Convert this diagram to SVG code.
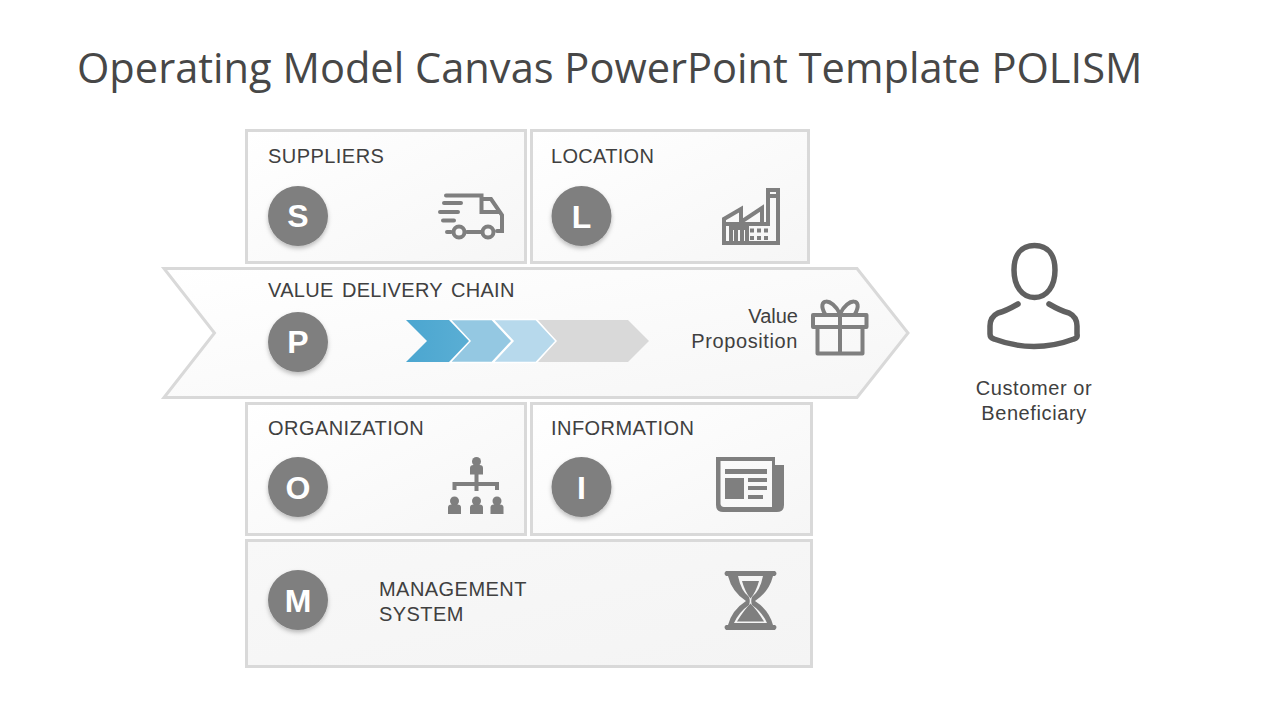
<svg xmlns="http://www.w3.org/2000/svg" width="1280" height="720" viewBox="0 0 1280 720">
<style>
text{font-family:"Liberation Sans",Arial,sans-serif;fill:#404040;font-size:20px;letter-spacing:.45px}
.low{letter-spacing:.6px}
.title{font-family:"Open Sans","Noto Sans",sans-serif;font-size:41.6px;fill:#474747;letter-spacing:0}
.box{fill:url(#boxg);stroke:#d9d9d9;stroke-width:3}
.cir{fill:#7f7f7f;filter:url(#sh)}
.let{fill:#fff;font-size:32px;font-weight:bold;text-anchor:middle;letter-spacing:0}
.ic{fill:none;stroke:#7f7f7f;stroke-width:4}
.icf{fill:#7f7f7f;stroke:none}
</style>
<defs>
<linearGradient id="boxg" x1="0" y1="0" x2="1" y2="1"><stop offset="0" stop-color="#fff"/><stop offset="1" stop-color="#f6f6f6"/></linearGradient>
<linearGradient id="mg" x1="0" y1="0" x2="1" y2="1"><stop offset="0" stop-color="#f8f8f8"/><stop offset="1" stop-color="#f4f4f4"/></linearGradient>
<linearGradient id="b1" x1="0" y1="0" x2="1" y2="0"><stop offset="0" stop-color="#4ba6d0"/><stop offset="1" stop-color="#5aaed4"/></linearGradient>
<filter id="sh" x="-20%" y="-20%" width="140%" height="150%"><feDropShadow dx="0" dy="2.5" stdDeviation="2" flood-color="#000" flood-opacity="0.25"/></filter>
<g id="person"><circle cx="0" cy="-4.500" r="4.500"/><path d="M-6.500 8.500V2Q-6.500 -1 -3 -1H3Q6.500 -1 6.500 2V8.500Z"/></g>
</defs>
<rect width="1280" height="720" fill="#fff"/>
<text class="title" x="77" y="83">Operating Model Canvas PowerPoint Template POLISM</text>

<g id="node-s">
<rect class="box" x="246.500" y="130.500" width="279" height="132"/>
<text x="268" y="162.500">SUPPLIERS</text>
<circle class="cir" cx="298" cy="216" r="30"/>
<text class="let" x="298" y="227">S</text>
<g class="ic" stroke-linecap="round">
<path d="M446 195.500H481.500V212H498M482 199H491L502 215V231H497M481 232H467M451 232H447M444 203H461M440 212H458M443 220.500H454"/>
<circle cx="459" cy="232" r="5.500"/><circle cx="488" cy="232" r="5.500"/>
</g>
</g>

<g id="node-l">
<rect class="box" x="531.500" y="130.500" width="277" height="132"/>
<text x="551" y="162.500" style="letter-spacing:.3px">LOCATION</text>
<circle class="cir" cx="581.500" cy="216" r="30"/>
<text class="let" x="581.500" y="228">L</text>
<path class="ic" d="M724 243V219L741 209V222L762 208V224H768V190H778V243ZM768 196H778M724 224H762M724 243H778M731 243V228H747V243M736 228V243M742 228V243"/>
<path class="icf" d="M750 228.500h4v4h-4zM757 228.500h4v4h-4zM764 228.500h4v4h-4zM750 236h4v4h-4zM757 236h4v4h-4zM764 236h4v4h-4z"/>
</g>

<g id="node-p">
<path class="box" d="M164 268.500H857L908 333L857 397.500H164L214.500 333Z"/>
<text x="268" y="296.500" word-spacing="2.500" style="letter-spacing:.3px">VALUE DELIVERY CHAIN</text>
<circle class="cir" cx="298" cy="342" r="30"/>
<text class="let" x="298" y="353">P</text>
<g id="chain" stroke="#fff" stroke-width="1.500">
<path fill="#d9d9d9" stroke="none" d="M538 320H628L649 341L628 362H538L556 341Z"/>
<path fill="#b7d9ec" d="M493 319.500H536L556 341L536 362.500H493L513 341Z"/>
<path fill="#94c8e2" d="M450 319.500H492L512 341L492 362.500H450L470 341Z"/>
<path fill="url(#b1)" stroke="none" d="M406 320H449L469 341L449 362H406L427 341Z"/>
</g>
<text x="798" y="323" text-anchor="end" style="letter-spacing:0">Value</text>
<text class="low" x="798" y="348" text-anchor="end">Proposition</text>
<g class="ic" stroke-width="4.500">
<path stroke-linejoin="round" d="M813 315H866.500V327H813ZM817.500 327V353.500H862.500V327M840 315V353.500"/>
<path d="M840 314C832 297 816 298 825 314M840 314C848 297 864 298 855 314"/>
</g>
</g>

<g id="node-o">
<rect class="box" x="246.500" y="403.500" width="279" height="131"/>
<text x="268" y="434.500">ORGANIZATION</text>
<circle class="cir" cx="298" cy="487" r="30"/>
<text class="let" x="298" y="499">O</text>
<g class="icf">
<use href="#person" x="476.500" y="466"/>
<use href="#person" x="454.500" y="505.500"/>
<use href="#person" x="476.500" y="505.500"/>
<use href="#person" x="497" y="505.500"/>
</g>
<path class="ic" stroke-width="2.500" d="M476.500 474V491M454.500 490V484H497V490"/>
</g>

<g id="node-i">
<rect class="box" x="531.500" y="403.500" width="280" height="131"/>
<text x="551" y="434.500">INFORMATION</text>
<circle class="cir" cx="581.500" cy="487" r="30"/>
<text class="let" x="581.500" y="499">I</text>
<path class="icf" fill-rule="evenodd" d="M716 457H775V465H784V505Q784 512 777 512H723Q716 512 716 505ZM720.500 461V504Q721 507 724 507H772V461Z"/>
<path class="icf" d="M725 469H767V474H725ZM725 478H744V499H725ZM748 478H767V482H748ZM748 486H767V490H748ZM748 495H763V499H748Z"/>
</g>

<g id="node-m">
<rect class="box" x="246.500" y="540.500" width="565" height="126" style="fill:url(#mg)"/>
<circle class="cir" cx="298" cy="600" r="30"/>
<text class="let" x="298" y="612">M</text>
<text x="379" y="595.500">MANAGEMENT</text>
<text x="379" y="620.500">SYSTEM</text>
<path class="icf" fill-rule="evenodd" d="M726 571H775Q778 573.500 775 576H773Q769 592 755 601Q769 610 773 625H775Q778 627 775 630H726Q723 627 726 625H728Q732 610 746 601Q732 592 728 576H726Q723 573.500 726 571ZM738 576Q741 591 749 597Q750.500 601 749 605Q739 612 734 623H767Q762 612 752 605Q750.500 601 752 597Q760 591 763 576Z"/>
<path class="icf" d="M742 581H759Q756 592 750.500 598.500Q745 592 742 581ZM750.500 603.500Q757 610 764 621.500H737Q744 610 750.500 603.500Z"/>
</g>

<g id="node-c">
<g fill="none" stroke="#606060" stroke-width="5.500" stroke-linecap="round">
<path d="M1034.500 245.500C1048 245.500 1055 255 1055 270C1055 286 1047 297.500 1034.500 297.500C1022 297.500 1014 286 1014 270C1014 255 1021 245.500 1034.500 245.500Z"/>
<path d="M1018 304Q1006 311 998 313Q990 317 990 326V334Q990 338 994 339Q1034 354 1074 339Q1078 338 1077 334V326Q1077 317 1069 313Q1061 311 1049 304"/>
</g>
<text class="low" x="1034" y="395" text-anchor="middle">Customer or</text>
<text class="low" x="1034" y="420" text-anchor="middle">Beneficiary</text>
</g>
<g id="connectors"/>
</svg>
